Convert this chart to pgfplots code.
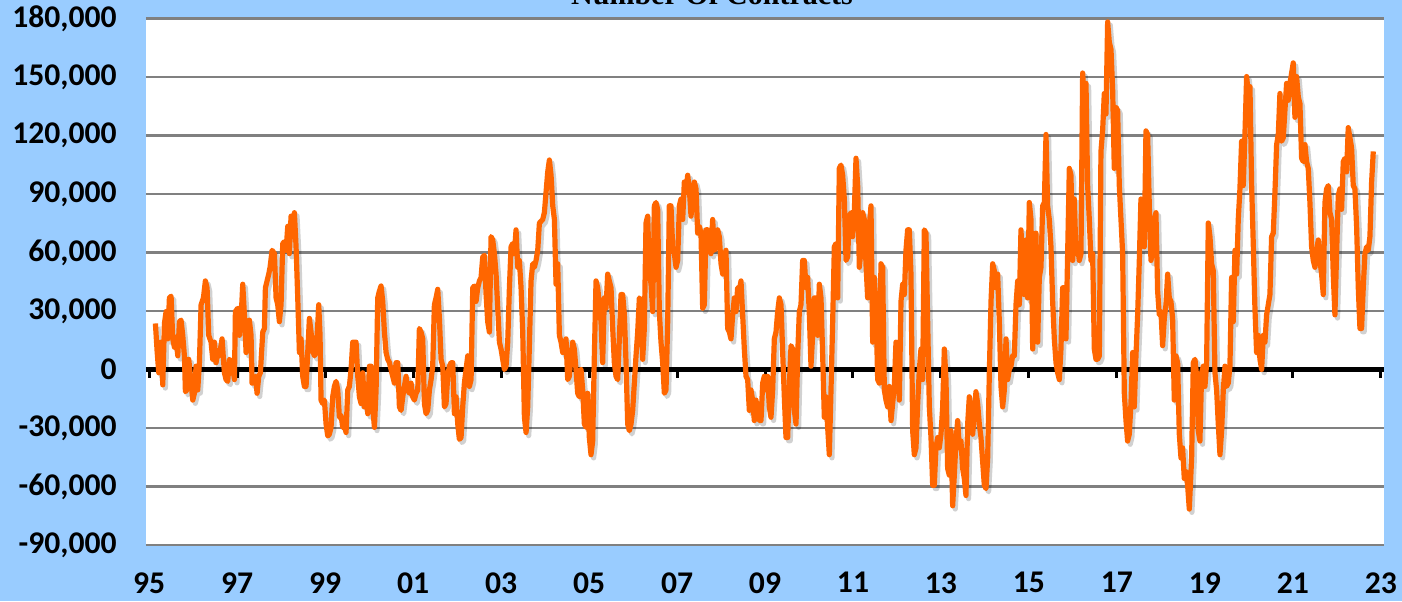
\documentclass[border=0pt]{standalone}
\usepackage{pgfplots}
\pgfplotsset{compat=1.18}
\usepackage{pgfplotstable}
\usepackage{fontspec}
\setmainfont{Carlito}
\newfontfamily\titlefont{Liberation Serif}
\definecolor{bgblue}{RGB}{153,204,255}
\definecolor{lineor}{RGB}{255,102,0}
\pgfplotstableread{
x y
1995.144 23600
1995.182 9600
1995.220 -1700
1995.273 14000
1995.311 -7900
1995.349 23600
1995.387 29700
1995.424 15700
1995.462 36700
1995.500 37600
1995.538 15700
1995.576 11400
1995.614 16600
1995.652 7000
1995.690 24500
1995.727 25300
1995.765 17500
1995.803 7000
1995.826 -11400
1995.856 -10500
1995.902 5200
1995.940 -3500
1995.993 -15700
1996.030 -12200
1996.068 1700
1996.106 -10500
1996.144 3500
1996.182 33200
1996.235 36700
1996.280 45400
1996.318 41900
1996.356 17500
1996.409 14000
1996.447 5200
1996.485 14000
1996.523 3500
1996.561 8700
1996.599 7000
1996.659 15700
1996.712 -1700
1996.750 -5200
1996.788 -6100
1996.826 5200
1996.886 3500
1996.940 -5200
1996.962 29700
1997.015 31400
1997.053 17500
1997.099 29700
1997.129 43700
1997.167 28000
1997.205 8700
1997.243 15700
1997.280 25300
1997.318 17500
1997.341 -7000
1997.379 -5200
1997.417 -3500
1997.455 -12200
1997.493 -3500
1997.530 -1700
1997.584 19200
1997.621 21000
1997.644 41900
1997.682 45400
1997.720 48900
1997.750 52400
1997.796 61100
1997.849 59400
1997.887 36700
1997.924 33200
1997.962 24500
1998.000 33200
1998.038 64600
1998.076 65500
1998.114 61100
1998.152 73400
1998.189 59400
1998.227 78600
1998.265 68100
1998.303 80400
1998.341 62900
1998.379 36700
1998.417 8700
1998.455 15700
1998.492 -3500
1998.530 -8700
1998.568 -8700
1998.606 8700
1998.644 26200
1998.682 19200
1998.720 9600
1998.758 7000
1998.795 8700
1998.833 22700
1998.856 33200
1998.886 17500
1998.909 -15700
1998.947 -17500
1998.985 -15700
1999.023 -28000
1999.061 -34100
1999.098 -33200
1999.136 -29700
1999.174 -14000
1999.212 -8700
1999.250 -6100
1999.288 -10500
1999.326 -24500
1999.364 -23600
1999.402 -29700
1999.439 -28000
1999.477 -32300
1999.515 -10500
1999.553 -8700
1999.591 0
1999.629 14000
1999.667 14000
1999.705 14000
1999.743 -3500
1999.781 -14000
1999.819 -17500
1999.857 -1700
1999.894 -19200
1999.932 -10500
1999.970 -22700
2000.008 1700
2000.046 1700
2000.084 -19200
2000.122 -29700
2000.160 -10500
2000.197 36700
2000.235 40200
2000.273 42800
2000.311 34900
2000.349 19200
2000.387 8700
2000.425 5200
2000.463 3500
2000.500 0
2000.538 -3500
2000.576 -7000
2000.614 3500
2000.652 3500
2000.690 -19200
2000.728 -21000
2000.766 -14000
2000.803 -8700
2000.841 -3500
2000.879 -10500
2000.917 -12200
2000.955 -7000
2000.993 -14000
2001.031 -15700
2001.069 -12200
2001.107 -10500
2001.144 21000
2001.182 19200
2001.220 15700
2001.258 -17500
2001.296 -22700
2001.334 -21000
2001.372 -10500
2001.410 -5200
2001.447 1700
2001.485 33200
2001.523 36700
2001.561 41100
2001.599 26200
2001.637 5200
2001.675 1700
2001.713 -19200
2001.750 -17500
2001.788 -3500
2001.826 1700
2001.864 3500
2001.902 3500
2001.940 -22700
2001.978 -14000
2002.016 -28000
2002.053 -35800
2002.091 -34900
2002.129 -19200
2002.167 -7000
2002.205 0
2002.243 7000
2002.281 -8700
2002.319 -5200
2002.357 41900
2002.394 42800
2002.432 34900
2002.470 41900
2002.508 45400
2002.546 47200
2002.584 57700
2002.622 58500
2002.660 38400
2002.697 24500
2002.735 19200
2002.773 68100
2002.811 66400
2002.849 59400
2002.887 48900
2002.925 31400
2002.963 14000
2003.000 10500
2003.038 5200
2003.076 0
2003.114 1700
2003.152 14000
2003.190 41900
2003.228 62900
2003.266 64600
2003.303 59400
2003.341 71600
2003.379 52400
2003.417 55900
2003.455 41900
2003.493 19200
2003.531 -24500
2003.569 -32300
2003.606 -19200
2003.644 12200
2003.682 45400
2003.720 54200
2003.758 52400
2003.796 55900
2003.834 61100
2003.872 75100
2003.910 76000
2003.947 76900
2003.985 80400
2004.023 90800
2004.061 101300
2004.099 107400
2004.137 99600
2004.175 83900
2004.213 76900
2004.250 43700
2004.288 54200
2004.326 17500
2004.364 14000
2004.402 8700
2004.440 8700
2004.477 15700
2004.515 -5200
2004.553 -3500
2004.591 7000
2004.629 14000
2004.666 10500
2004.704 0
2004.742 -12200
2004.780 -14000
2004.818 0
2004.856 -10500
2004.894 -28000
2004.932 -29700
2004.969 -12200
2005.007 -34900
2005.045 -43700
2005.083 -36700
2005.121 7000
2005.159 45400
2005.197 41900
2005.235 33200
2005.272 24500
2005.310 3500
2005.348 36700
2005.386 31400
2005.424 48900
2005.462 45400
2005.500 41900
2005.538 21000
2005.575 3500
2005.613 -3500
2005.651 -5200
2005.689 15700
2005.727 38400
2005.765 38400
2005.803 28000
2005.841 3500
2005.879 -28000
2005.916 -31400
2005.954 -28000
2005.992 -21000
2006.030 -7000
2006.068 7000
2006.106 19200
2006.144 36700
2006.182 34900
2006.219 5200
2006.257 21000
2006.295 75100
2006.333 78600
2006.371 50700
2006.409 43700
2006.447 29700
2006.485 83900
2006.522 85600
2006.560 82100
2006.598 29700
2006.636 14000
2006.674 3500
2006.712 -12200
2006.750 -10500
2006.788 24500
2006.825 83900
2006.863 83900
2006.901 62900
2006.939 59400
2006.977 52400
2007.015 55900
2007.053 83900
2007.091 87400
2007.129 76900
2007.166 96100
2007.204 90800
2007.242 99600
2007.280 92600
2007.318 78600
2007.356 87400
2007.394 96100
2007.432 92600
2007.469 69900
2007.507 73400
2007.545 69900
2007.583 31400
2007.621 33200
2007.659 71600
2007.697 71600
2007.735 66400
2007.772 59400
2007.810 76900
2007.848 61100
2007.886 62900
2007.924 71600
2007.962 68100
2008.000 54200
2008.038 48900
2008.075 57700
2008.113 61100
2008.151 21000
2008.189 19200
2008.227 15700
2008.265 28000
2008.303 36700
2008.341 29700
2008.378 41900
2008.416 40200
2008.454 45400
2008.492 28000
2008.530 10500
2008.568 -3500
2008.606 -5200
2008.644 -21000
2008.681 -10500
2008.719 -15700
2008.757 -26200
2008.795 -15700
2008.833 -22700
2008.871 -26200
2008.909 -26200
2008.947 -7000
2008.984 -3500
2009.022 -10500
2009.060 -3500
2009.098 -19200
2009.136 -24500
2009.174 -10500
2009.212 15700
2009.250 19200
2009.288 29700
2009.326 36700
2009.364 33200
2009.402 8700
2009.439 -14000
2009.477 -34900
2009.515 -34900
2009.553 -8700
2009.591 12200
2009.629 10500
2009.667 -21000
2009.705 -28000
2009.742 7000
2009.780 29700
2009.818 33200
2009.856 55900
2009.894 55900
2009.932 41900
2009.970 47200
2010.008 28000
2010.045 1700
2010.083 17500
2010.121 36700
2010.159 36700
2010.197 17500
2010.235 43700
2010.273 36700
2010.311 7000
2010.348 -24500
2010.386 -14000
2010.424 -29700
2010.462 -43700
2010.500 -10500
2010.538 24500
2010.576 62900
2010.614 64600
2010.652 36700
2010.689 103100
2010.727 104800
2010.765 99600
2010.803 87400
2010.841 55900
2010.879 57700
2010.917 78600
2010.955 80400
2010.992 68100
2011.030 80400
2011.068 108300
2011.106 94300
2011.144 52400
2011.182 61100
2011.220 80400
2011.258 76900
2011.295 54200
2011.333 36700
2011.371 73400
2011.409 83900
2011.447 14000
2011.485 47200
2011.523 31400
2011.561 -5200
2011.598 -7000
2011.636 54200
2011.674 52400
2011.712 -10500
2011.750 -15700
2011.788 -19200
2011.826 -8700
2011.864 -26200
2011.901 -17500
2011.939 -8700
2011.977 14000
2012.015 7000
2012.053 -15700
2012.091 34900
2012.129 43700
2012.167 38400
2012.204 61100
2012.242 71600
2012.280 71600
2012.318 48900
2012.356 -31400
2012.394 -43700
2012.432 -40200
2012.470 -17500
2012.508 0
2012.545 10500
2012.583 -5200
2012.621 71600
2012.659 69900
2012.697 24500
2012.735 -19200
2012.773 -34900
2012.811 -59400
2012.848 -59400
2012.886 -40200
2012.924 -34900
2012.962 -40200
2013.000 -33200
2013.038 -19200
2013.076 10500
2013.114 -5200
2013.151 -50700
2013.189 -54200
2013.227 -31400
2013.265 -69900
2013.303 -54200
2013.341 -36700
2013.379 -26200
2013.417 -40200
2013.454 -36700
2013.492 -50700
2013.530 -55900
2013.568 -64600
2013.606 -28000
2013.644 -14000
2013.682 -24500
2013.720 -33200
2013.757 -22700
2013.795 -11400
2013.833 -17500
2013.871 -28000
2013.909 -34900
2013.947 -47200
2013.985 -59400
2014.023 -61100
2014.061 -45400
2014.099 -1700
2014.137 34900
2014.175 54200
2014.212 50700
2014.250 41900
2014.288 48900
2014.326 24500
2014.364 -8700
2014.402 -19200
2014.440 -10500
2014.478 15700
2014.515 -5200
2014.553 0
2014.591 1700
2014.629 7000
2014.667 7000
2014.705 33200
2014.743 45400
2014.781 33200
2014.818 71600
2014.856 54200
2014.894 38400
2014.932 66400
2014.970 36700
2015.008 85600
2015.046 76900
2015.084 10500
2015.121 43700
2015.159 69900
2015.197 14000
2015.235 47200
2015.273 52400
2015.311 83900
2015.349 85600
2015.387 120500
2015.424 83900
2015.462 76900
2015.500 62900
2015.538 34900
2015.576 15700
2015.614 3500
2015.652 -1700
2015.690 -5200
2015.727 10500
2015.765 41900
2015.803 41900
2015.841 15700
2015.879 59400
2015.917 103100
2015.955 99600
2015.993 55900
2016.030 87400
2016.068 59400
2016.106 62900
2016.144 55900
2016.182 59400
2016.220 152000
2016.258 138000
2016.296 146700
2016.333 94300
2016.371 76900
2016.409 55900
2016.447 59400
2016.485 10500
2016.523 5200
2016.561 5200
2016.599 7000
2016.636 111800
2016.674 122300
2016.712 141500
2016.750 131000
2016.788 178200
2016.826 167700
2016.864 164200
2016.902 143300
2016.939 103100
2016.977 134500
2017.015 132800
2017.053 94300
2017.091 76900
2017.129 59400
2017.167 -12200
2017.205 -26200
2017.242 -36700
2017.280 -33200
2017.318 -17500
2017.356 8700
2017.394 -19200
2017.432 7000
2017.470 28000
2017.508 55900
2017.545 87400
2017.583 80400
2017.621 62900
2017.659 122300
2017.697 120500
2017.735 83900
2017.773 55900
2017.811 61100
2017.849 76900
2017.886 80400
2017.924 40200
2017.962 28000
2018.000 29700
2018.038 12200
2018.076 26200
2018.114 33200
2018.152 48900
2018.189 36700
2018.227 34900
2018.265 26200
2018.303 -15700
2018.341 7000
2018.379 3500
2018.417 -33200
2018.455 -45400
2018.492 -40200
2018.530 -55900
2018.568 -52400
2018.606 -59400
2018.644 -71600
2018.697 -45400
2018.735 3500
2018.773 5200
2018.811 -3500
2018.848 -31400
2018.886 -36700
2018.924 -1700
2018.962 1700
2019.000 -8700
2019.038 3500
2019.076 75100
2019.114 68100
2019.151 54200
2019.189 50700
2019.227 -1700
2019.265 -10500
2019.303 -28000
2019.341 -43700
2019.379 -31400
2019.417 -10500
2019.455 1700
2019.492 -8700
2019.530 -7000
2019.568 1700
2019.606 47200
2019.644 24500
2019.682 61100
2019.720 48900
2019.757 76900
2019.795 92600
2019.833 117000
2019.871 94300
2019.909 120500
2019.947 150200
2019.985 141500
2020.023 145000
2020.061 94300
2020.098 64600
2020.136 31400
2020.174 8700
2020.212 17500
2020.250 5200
2020.288 0
2020.326 17500
2020.364 14000
2020.401 28000
2020.439 33200
2020.477 38400
2020.515 68100
2020.553 69900
2020.591 90800
2020.629 115300
2020.667 120500
2020.704 141500
2020.742 117000
2020.780 118800
2020.818 132800
2020.856 146700
2020.894 138000
2020.932 146700
2020.970 152000
2021.007 157200
2021.045 129300
2021.083 150200
2021.121 139800
2021.159 136300
2021.197 108300
2021.235 106600
2021.273 115300
2021.310 106600
2021.348 103100
2021.386 85600
2021.424 62900
2021.462 55900
2021.500 52400
2021.538 61100
2021.576 66400
2021.613 55900
2021.651 48900
2021.689 38400
2021.727 85600
2021.765 92600
2021.803 94300
2021.841 80400
2021.879 76900
2021.916 48900
2021.954 28000
2021.992 59400
2022.030 89100
2022.068 92600
2022.106 82100
2022.144 106600
2022.182 108300
2022.220 101300
2022.257 124000
2022.295 118800
2022.333 113600
2022.371 94300
2022.409 92600
2022.447 73400
2022.485 41900
2022.523 21000
2022.560 21000
2022.598 41900
2022.636 59400
2022.674 62900
2022.712 61100
2022.750 68100
2022.788 96100
2022.826 111800
}\cotdata
\begin{document}
\begin{tikzpicture}
\fill[bgblue] (0,0) rectangle (701pt,300.5pt);
\begin{axis}[
  at={(73pt,28pt)}, anchor=south west,
  scale only axis, width=619pt, height=263.3pt,
  xmin=1994.93, xmax=2023.07,
  ymin=-90000, ymax=180000,
  scaled y ticks=false, scaled x ticks=false,
  axis background/.style={fill=white},
  axis line style={draw=none},
  major tick length=0pt,
  ytick={-90000,-60000,-30000,0,30000,60000,90000,120000,150000,180000},
  yticklabels={{-90,000},{-60,000},{-30,000},0,{30,000},{60,000},{90,000},{120,000},{150,000},{180,000}},
  xtick={1995,1997,1999,2001,2003,2005,2007,2009,2011,2013,2015,2017,2019,2021,2023},
  xticklabels={95,97,99,01,03,05,07,09,11,13,15,17,19,21,23},
  ymajorgrids,
  major grid style={black!50, line width=1.1pt},
  tick label style={font=\bfseries\fontsize{15.8}{18}\selectfont, inner sep=0pt},
  yticklabel style={anchor=east, xshift=-14.5pt},
  xticklabel style={anchor=north, yshift=-13.5pt},
  clip=false,
]
\addplot[black, opacity=0.18, line width=2.6pt, line join=round, no markers, xshift=1.3pt, yshift=-1.6pt] table {\cotdata};
\addplot[black, line width=2.6pt, no markers] coordinates {(1994.93,0) (2023.07,0)};
\addplot[ycomb, black, line width=1.5pt, no markers] coordinates {(1995,-4200) (1997,-4200) (1999,-4200) (2001,-4200) (2003,-4200) (2005,-4200) (2007,-4200) (2009,-4200) (2011,-4200) (2013,-4200) (2015,-4200) (2017,-4200) (2019,-4200) (2021,-4200) (2023,-4200)};
\addplot[lineor, line width=2.6pt, line join=round, no markers] table {\cotdata};
\end{axis}
\node[anchor=base, font={\titlefont\bfseries\fontsize{15}{18}\selectfont}] at (356pt,298pt) {Number Of Contracts};
\pgfresetboundingbox
\useasboundingbox (0,0) rectangle (701pt,300.5pt);
\end{tikzpicture}
\end{document}
